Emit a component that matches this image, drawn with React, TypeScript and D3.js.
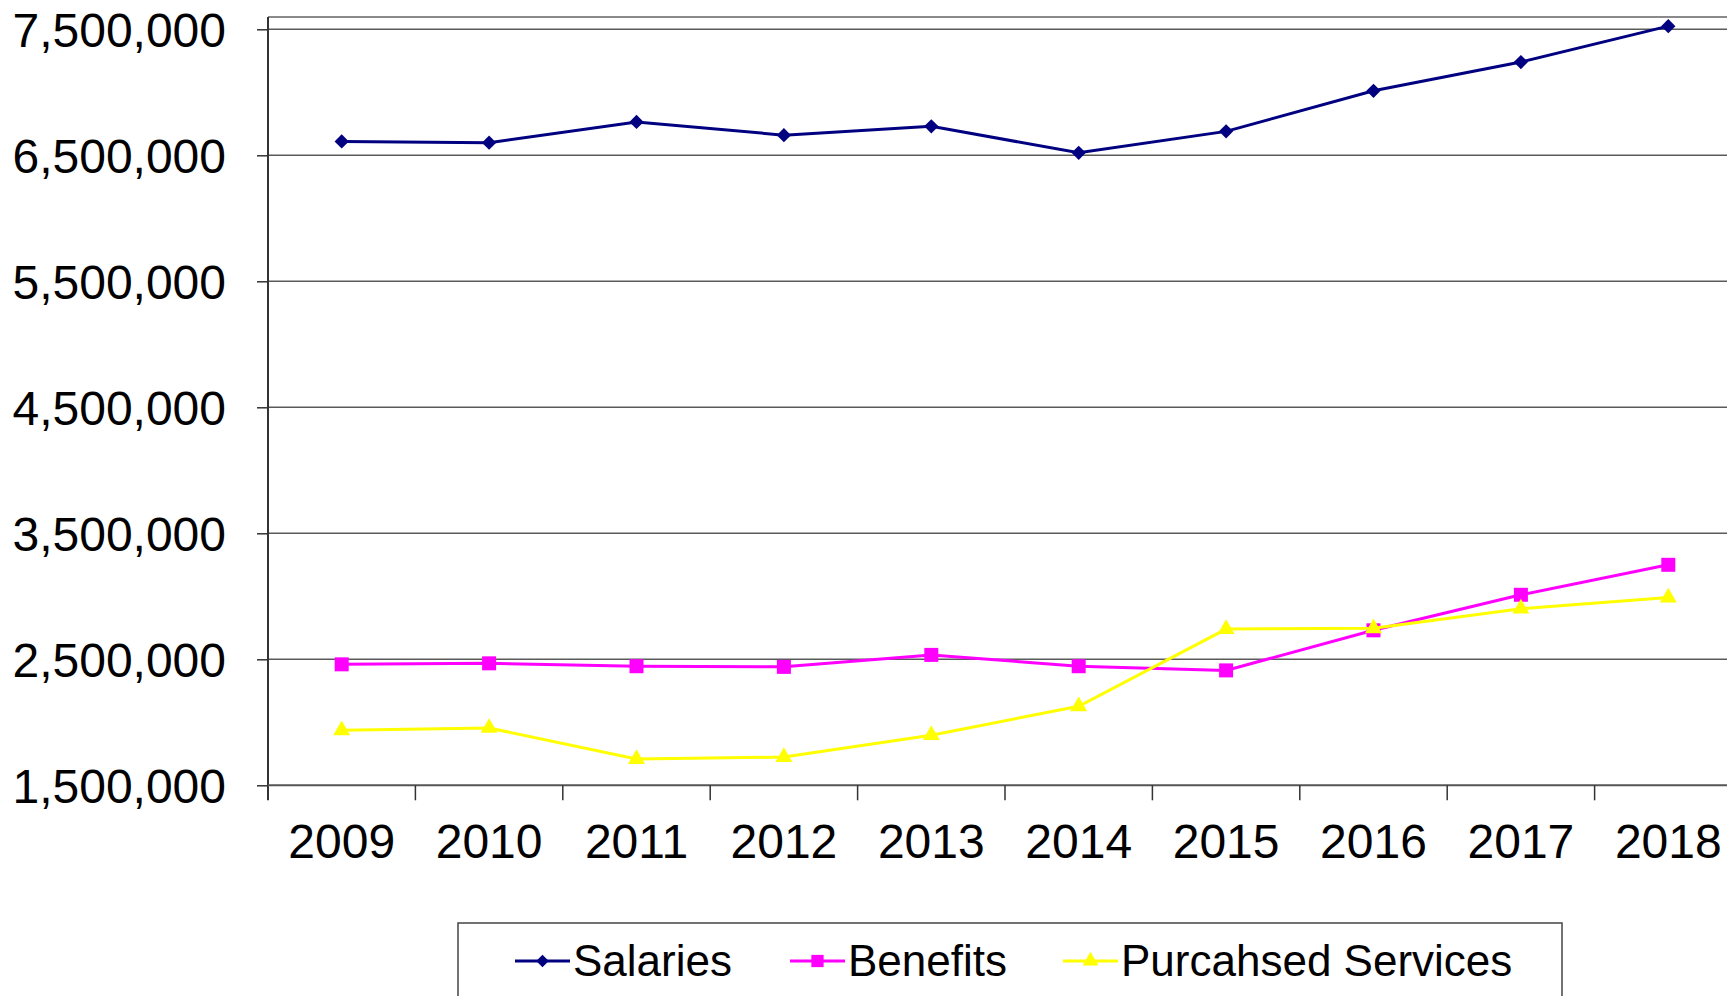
import React, { useRef, useEffect } from "react";
import * as d3 from "d3";

// values
const years = ["2009", "2010", "2011", "2012", "2013", "2014", "2015", "2016", "2017", "2018"];
const salaries = [6610000, 6600000, 6765000, 6660000, 6730000, 6520000, 6690000, 7012000, 7240000, 7525000];
const benefits = [2460000, 2468000, 2445000, 2440000, 2535000, 2445000, 2412000, 2730000, 3012000, 3250000];
const purchased = [1937000, 1955000, 1708000, 1724000, 1898000, 2127000, 2740000, 2746000, 2902000, 2990000];
const yTicks = [1500000, 2500000, 3500000, 4500000, 5500000, 6500000, 7500000];

const seriesNames = ["Salaries", "Benefits", "Purcahsed Services"];
const seriesColors = ["#000080", "#ff00ff", "#ffff00"];
const seriesSymbols = [d3.symbolDiamond2, d3.symbolSquare, d3.symbolTriangle];

const FONT = "'Liberation Sans', Arial, sans-serif";

const LineChart = () => {
  const svgRef = useRef<SVGSVGElement>(null);

  useEffect(() => {
    if (!svgRef.current) return;
    const W = 1727;
    const H = 996;
    const left = 268;
    const plotTop = 17;
    const bottom = 785.3;
    const step = 147.4;

    const svg = d3.select(svgRef.current);
    svg.selectAll("*").remove();
    svg.attr("width", W).attr("height", H);

    const x = d3
      .scaleBand<string>()
      .domain(years)
      .range([left, left + step * years.length])
      .padding(0);
    const y = d3.scaleLinear().domain([1500000, 7500000]).range([bottom, 29.3]);

    // plot frame top
    svg
      .append("line")
      .attr("x1", left)
      .attr("x2", W)
      .attr("y1", plotTop)
      .attr("y2", plotTop)
      .attr("stroke", "#8a8a8a")
      .attr("stroke-width", 2);

    // gridlines
    svg
      .append("g")
      .selectAll("line")
      .data(yTicks.slice(1))
      .join("line")
      .attr("x1", left)
      .attr("x2", W)
      .attr("y1", (d) => y(d))
      .attr("y2", (d) => y(d))
      .attr("stroke", "#5a5a5a")
      .attr("stroke-width", 1.5);

    // Y axis
    const yAxis = svg
      .append("g")
      .attr("transform", `translate(${left},0)`)
      .call(
        d3
          .axisLeft(y)
          .tickValues(yTicks)
          .tickSize(11)
          .tickPadding(31)
          .tickFormat((d) => d3.format(",")(d as number))
      );
    yAxis.select(".domain").remove();
    yAxis.selectAll(".tick line").attr("stroke", "#333").attr("stroke-width", 1.5);
    yAxis
      .selectAll("text")
      .attr("fill", "#000")
      .style("font-family", FONT)
      .style("font-size", "48px")
      .attr("dy", "0.36em");

    svg
      .append("line")
      .attr("x1", left)
      .attr("x2", left)
      .attr("y1", plotTop)
      .attr("y2", bottom + 15)
      .attr("stroke", "#333")
      .attr("stroke-width", 2);

    // X axis
    svg
      .append("line")
      .attr("x1", left)
      .attr("x2", W)
      .attr("y1", bottom)
      .attr("y2", bottom)
      .attr("stroke", "#555")
      .attr("stroke-width", 2);

    svg
      .append("g")
      .selectAll("line")
      .data(years)
      .join("line")
      .attr("x1", (d) => x(d)! + x.bandwidth())
      .attr("x2", (d) => x(d)! + x.bandwidth())
      .attr("y1", bottom)
      .attr("y2", bottom + 15)
      .attr("stroke", "#333")
      .attr("stroke-width", 1.5);

    svg
      .append("g")
      .selectAll("text")
      .data(years)
      .join("text")
      .attr("x", (d) => x(d)! + x.bandwidth() / 2)
      .attr("y", 858)
      .attr("text-anchor", "middle")
      .style("font-family", FONT)
      .style("font-size", "48px")
      .attr("fill", "#000")
      .text((d) => d);

    // series
    const allSeries = [salaries, benefits, purchased];
    const cx = (i: number) => x(years[i])! + x.bandwidth() / 2;
    const line = d3
      .line<number>()
      .x((_, i) => cx(i))
      .y((d) => y(d));

    allSeries.forEach((vals, s) => {
      svg
        .append("path")
        .datum(vals)
        .attr("d", line)
        .attr("fill", "none")
        .attr("stroke", seriesColors[s])
        .attr("stroke-width", 3);

      const sizes = [130, 196, 125];
      svg
        .append("g")
        .selectAll("path")
        .data(vals)
        .join("path")
        .attr("transform", (d, i) => `translate(${cx(i)},${y(d)})`)
        .attr("d", d3.symbol().type(seriesSymbols[s]).size(sizes[s])())
        .attr("fill", seriesColors[s]);
    });

    // legend
    svg
      .append("rect")
      .attr("x", 458)
      .attr("y", 923)
      .attr("width", 1104)
      .attr("height", 100)
      .attr("fill", "#fff")
      .attr("stroke", "#444")
      .attr("stroke-width", 1.5);

    const legendX = [515, 790, 1063];
    seriesNames.forEach((name, s) => {
      const g = svg.append("g").attr("transform", `translate(${legendX[s]},961)`);
      g.append("line")
        .attr("x1", 0)
        .attr("x2", 55)
        .attr("y1", 0)
        .attr("y2", 0)
        .attr("stroke", seriesColors[s])
        .attr("stroke-width", 3);
      g.append("path")
        .attr("transform", "translate(27.5,0)")
        .attr("d", d3.symbol().type(seriesSymbols[s]).size([100, 150, 110][s])())
        .attr("fill", seriesColors[s]);
      g.append("text")
        .attr("x", 58)
        .attr("y", 15)
        .style("font-family", FONT)
        .style("font-size", "44px")
        .attr("fill", "#000")
        .text(name);
    });
  }, []);

  return (
    <svg
      ref={svgRef}
      style={{ position: "absolute", left: 0, top: 0, background: "#fff" }}
    ></svg>
  );
};

export default function App() {
  return <LineChart />;
}
